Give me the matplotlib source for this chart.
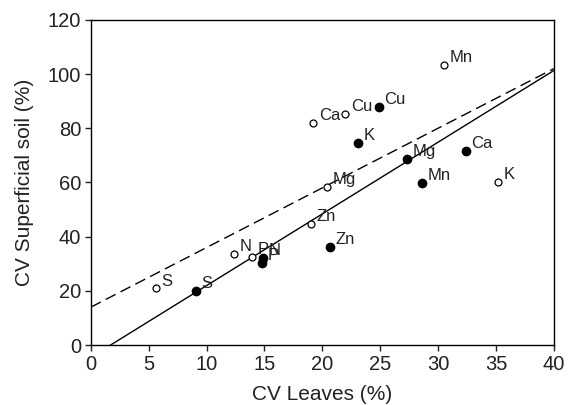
"""Scatter of coefficient of variation: leaves vs superficial soil, with fitted lines."""
import matplotlib
matplotlib.use("Agg")
import matplotlib.pyplot as plt
import numpy as np

plt.rcParams["font.family"] = ["Liberation Sans", "DejaVu Sans"]

# open circles
open_labels = ["S", "N", "P", "Zn", "Mg", "Ca", "Cu", "Mn", "K"]
open_x = [5.6, 12.4, 13.9, 19.0, 20.4, 19.2, 22.0, 30.5, 35.2]
open_y = [20.9, 33.6, 32.6, 44.7, 58.3, 82.0, 85.2, 103.4, 60.1]

# filled circles
filled_labels = ["S", "N", "P", "Zn", "K", "Cu", "Mg", "Mn", "Ca"]
filled_x = [9.1, 14.9, 14.8, 20.7, 23.1, 24.9, 27.3, 28.6, 32.4]
filled_y = [20.1, 32.1, 30.3, 36.1, 74.5, 87.8, 68.6, 59.7, 71.6]

# regression lines (slope, intercept)
solid_fit = (2.645, -4.5)
dashed_fit = (2.2, 14.0)

x_ticks = [0, 5, 10, 15, 20, 25, 30, 35, 40]
y_ticks = [0, 20, 40, 60, 80, 100, 120]

fig = plt.figure(figsize=(5.68, 4.05), dpi=100)
ax = fig.add_axes([0.160, 0.148, 0.815, 0.803])

xx = np.array([0, 40])
ax.plot(xx, solid_fit[0] * xx + solid_fit[1], color="black", lw=1.0)
ax.plot(xx, dashed_fit[0] * xx + dashed_fit[1], color="black", lw=1.0,
        dashes=(8, 4))

ax.plot(open_x, open_y, "o", ms=5, mfc="white", mec="black", mew=0.9,
        ls="none", zorder=3)
ax.plot(filled_x, filled_y, "o", ms=6, mfc="black", mec="black",
        ls="none", zorder=3)

for lab, x, y in zip(open_labels + filled_labels, open_x + filled_x,
                     open_y + filled_y):
    ax.annotate(lab, (x, y), xytext=(4, 2), textcoords="offset points",
                ha="left", va="baseline", fontsize=12, color="#222222")

ax.set_xlim(0, 40)
ax.set_ylim(0, 120)
ax.set_xticks(x_ticks)
ax.set_yticks(y_ticks)
ax.tick_params(direction="out", length=4, width=1, labelsize=14.5,
               colors="#222222", pad=3)
for s in ax.spines.values():
    s.set_linewidth(1.0)
ax.set_xlabel("CV Leaves (%)", fontsize=15, color="#222222", labelpad=8)
ax.set_ylabel("CV Superficial soil (%)", fontsize=15, color="#222222",
              labelpad=10)

fig.savefig("out.png", dpi=100)
